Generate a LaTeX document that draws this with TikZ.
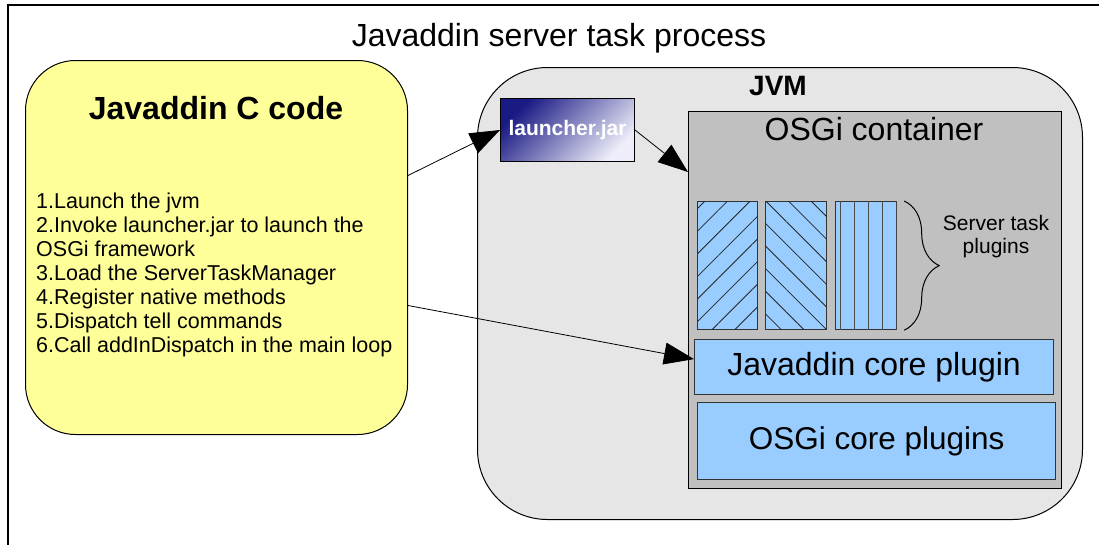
\documentclass[tikz,border=0pt]{standalone}
\usepackage{fontspec}
\setmainfont{Liberation Sans}
\usetikzlibrary{arrows.meta,decorations.pathreplacing,patterns.meta}

\definecolor{jvmgray}{HTML}{E6E6E6}
\definecolor{osgigray}{HTML}{C0C0C0}
\definecolor{ccyellow}{HTML}{FFFF99}
\definecolor{plugblue}{HTML}{99CCFF}
\definecolor{jarnavy}{HTML}{1A1A85}
\definecolor{jarpale}{HTML}{EEEEFA}

\tikzset{
  arr/.style={-{Triangle[length=30pt,width=22pt]}, line width=0.8pt},
  plugbox/.style={draw=black!80, line width=1.2pt, fill=plugblue, anchor=north west},
  hatch/.style={postaction={pattern={Lines[angle=#1,distance=16pt,line width=0.8pt]},pattern color=black!85}},
}

\begin{document}
\begin{tikzpicture}[x=1pt,y=-1pt]
        \useasboundingbox (0,0) rectangle (1099,544);
        \fill [white] (0,0) rectangle (1099,544);
        % outer frame and title
        \draw [line width=2pt] (8,550) to (8,5) to (1105,5);
        \node [anchor=base,font=\fontsize{32}{38}\selectfont] (title) at (559,46) {Javaddin server task process};
        % C side
        \node [draw,line width=1pt,fill=ccyellow,rounded corners=50pt,minimum width=382pt,minimum height=374pt,anchor=north west] (ccode) at (25,60) {};
        \node [anchor=base,font=\bfseries\fontsize{32}{38}\selectfont] (ctitle) at (216,119) {Javaddin C code};
        \node [anchor=north west,align=left,inner sep=0pt,font=\fontsize{21.5}{24}\selectfont] (csteps) at (36,193)
          {1.Launch the jvm\\2.Invoke launcher.jar to launch the\\OSGi framework\\3.Load the ServerTaskManager\\4.Register native methods\\5.Dispatch tell commands\\6.Call addInDispatch in the main loop};
        % JVM side
        \node [draw,line width=1pt,fill=jvmgray,rounded corners=70pt,minimum width=605pt,minimum height=452pt,anchor=north west] (jvm) at (477,67) {};
        \node [anchor=base,font=\bfseries\fontsize{28}{34}\selectfont] (jvmlabel) at (778,95) {JVM};
        \node [draw,line width=1pt,top color=jarnavy,bottom color=jarpale,shading angle=45,minimum width=134pt,minimum height=63pt,anchor=north west,text=white,font=\bfseries\fontsize{21}{25}\selectfont] (launcher) at (500,98) {launcher.jar};
        \node [draw,line width=1.2pt,fill=osgigray,minimum width=373pt,minimum height=377pt,anchor=north west] (osgi) at (688,111) {};
        \node [anchor=base,font=\fontsize{32}{38}\selectfont] (osgilabel) at (874,140) {OSGi container};
        % server task plugins
        \node [plugbox,hatch=45,minimum width=60pt,minimum height=128pt] (plugA) at (697,201) {};
        \node [plugbox,hatch=-45,minimum width=61pt,minimum height=128pt] (plugB) at (765,201) {};
        \node [plugbox,minimum width=61pt,minimum height=128pt,postaction={pattern={Lines[angle=90,distance=14pt,line width=0.8pt]},pattern color=black!70}] (plugC) at (835,201) {};
        \draw [line width=1pt,decorate,decoration={brace,amplitude=35pt}] ([xshift=7pt]plugC.north east) to ([xshift=7pt]plugC.south east);
        \node [align=center,font=\fontsize{21}{23}\selectfont] (stlabel) at (996,237) {Server task\\plugins};
        % core plugins
        \node [plugbox,minimum width=359pt,minimum height=55pt,font=\fontsize{32}{38}\selectfont] (jcore) at (694,339) {Javaddin core plugin};
        \node [plugbox,minimum width=358pt,minimum height=77pt,font=\fontsize{31.5}{38}\selectfont] (ocore) at (697,402) {OSGi core plugins};
        % connectors
        \draw [arr] ([yshift=72pt]ccode.east) to (launcher.west);
        \draw [arr] (launcher.east) to ([yshift=-61pt]osgi.north west);
        \draw [arr] ([yshift=-58pt]ccode.east) to ([yshift=8pt]jcore.west);
\end{tikzpicture}
\end{document}
